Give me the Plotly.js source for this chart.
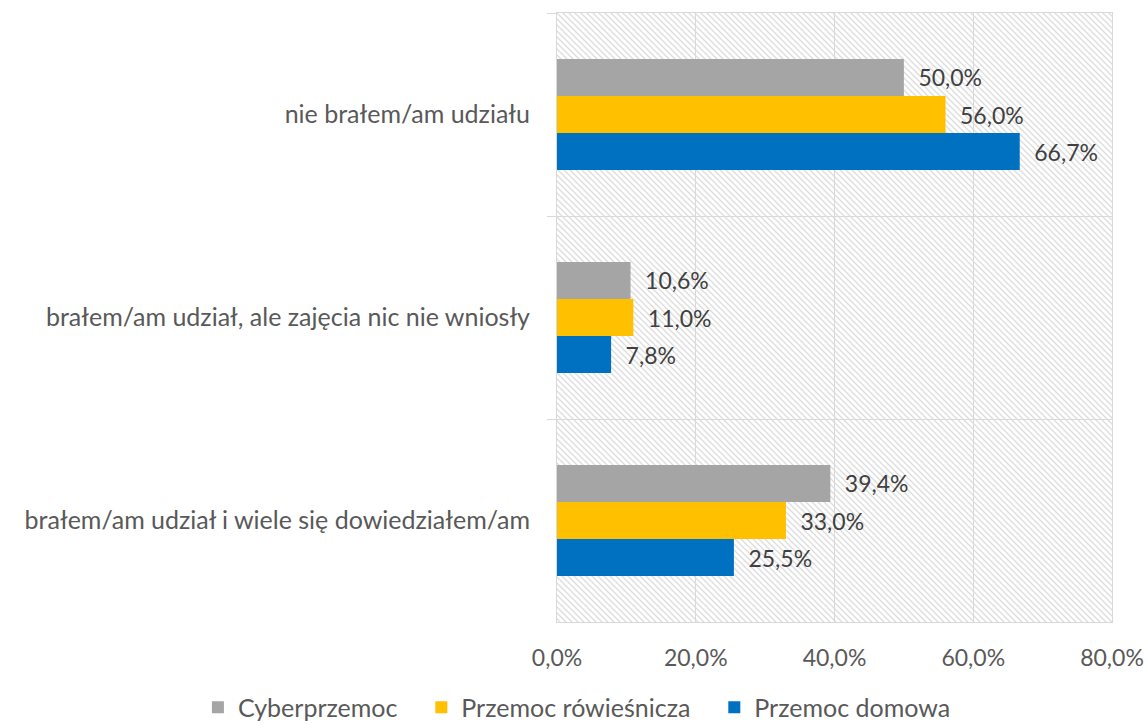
<!DOCTYPE html>
<html>
<head>
<meta charset="utf-8">
<script src="https://cdn.plot.ly/plotly-3.0.1.min.js"></script>
<style>html,body{margin:0;padding:0;background:#fff;}#chart{width:1148px;height:724px;}</style>
</head>
<body>
<div id="chart"></div>
<script>
const categories = ["nie brałem/am udziału", "brałem/am udział, ale zajęcia nic nie wniosły", "brałem/am udział i wiele się dowiedziałem/am"];
const seriesNames = ["Cyberprzemoc", "Przemoc rówieśnicza", "Przemoc domowa"];
const cyber = [50.0, 10.6, 39.4];
const rowiesnicza = [56.0, 11.0, 33.0];
const domowa = [66.7, 7.8, 25.5];
const xTickVals = [0, 20, 40, 60, 80];
const xTickLabels = ["0,0%", "20,0%", "40,0%", "60,0%", "80,0%"];
const colors = ["#A5A5A5", "#FFC000", "#0070C0"];

const font = "Lato, Open Sans, sans-serif";
const values = [cyber, rowiesnicza, domowa];
const traces = values.map((v, i) => ({
  type: "bar",
  orientation: "h",
  name: seriesNames[i] + (i < seriesNames.length - 1 ? "\u2002\u00a0" : ""),
  y: categories,
  x: v,
  marker: {color: colors[i]},
  texttemplate: "\u2002%{x:.1f}%",
  textposition: "outside",
  cliponaxis: false,
  textfont: {family: font, size: 23, color: "#404040"},
  hoverinfo: "x+name"
}));

const W = 555, H = 609;
const svg = `<svg xmlns="http://www.w3.org/2000/svg" width="${W}" height="${H}" preserveAspectRatio="none"><defs><pattern id="p" width="6" height="6" patternUnits="userSpaceOnUse"><path d="M-1,-1 L7,7 M-1,5 L1,7 M5,-1 L7,1" stroke="#dcdcdc" stroke-width="1.3"/></pattern></defs><rect width="${W}" height="${H}" fill="#fff"/><rect width="${W}" height="${H}" fill="url(#p)"/></svg>`;

const layout = {
  width: 1148, height: 724,
  margin: {l: 557, r: 36, t: 13, b: 102, autoexpand: false},
  paper_bgcolor: "#ffffff",
  plot_bgcolor: "rgba(0,0,0,0)",
  separators: ",.",
  barmode: "group",
  bargap: 0.453,
  bargroupgap: 0,
  showlegend: true,
  legend: {orientation: "h", x: -0.647, xanchor: "left", y: -0.1405, yanchor: "middle", traceorder: "normal", font: {family: font, size: 25, color: "#595959"}},
  xaxis: {
    range: [0, 80], tickvals: xTickVals, ticktext: xTickLabels,
    showgrid: true, gridcolor: "#d9d9d9", gridwidth: 1,
    showline: true, mirror: true, linecolor: "#d9d9d9", linewidth: 1,
    zeroline: false, ticks: "", ticklabelstandoff: 15,
    tickfont: {family: font, size: 23, color: "#595959"}
  },
  yaxis: {
    type: "category", autorange: "reversed", tickson: "boundaries",
    ticks: "outside", ticklen: 9, tickcolor: "#d9d9d9",
    showgrid: true, gridcolor: "#d9d9d9", gridwidth: 1,
    showline: true, mirror: true, linecolor: "#d9d9d9", linewidth: 1,
    zeroline: false, ticklabelstandoff: 21,
    tickfont: {family: font, size: 25, color: "#595959"}
  },
  images: [{
    source: "data:image/svg+xml;charset=utf-8," + encodeURIComponent(svg),
    xref: "paper", yref: "paper", x: 0, y: 1, sizex: 1, sizey: 1,
    xanchor: "left", yanchor: "top", sizing: "stretch", layer: "below"
  }]
};

Plotly.newPlot("chart", traces, layout, {displayModeBar: false, staticPlot: true});
</script>
</body>
</html>
